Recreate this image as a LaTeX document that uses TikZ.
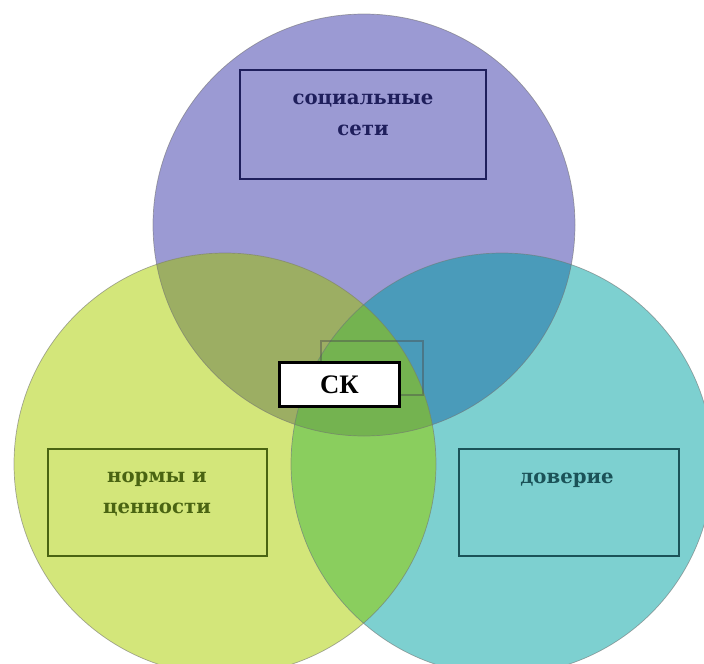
\documentclass[tikz,border=0pt]{standalone}
\usepackage{fontspec}
\setmainfont{DejaVu Serif}
\newfontfamily\timesfont{Liberation Serif}
\usepackage{xcolor}
\usetikzlibrary{positioning}

\definecolor{setiC}{HTML}{9B9AD3}
\definecolor{normC}{HTML}{D3E67A}
\definecolor{dovC}{HTML}{7DD0D0}
\definecolor{setinormC}{HTML}{9CAE63}
\definecolor{setidovC}{HTML}{4A9BBA}
\definecolor{normdovC}{HTML}{8ACE5E}
\definecolor{allC}{HTML}{74B350}
\definecolor{setiT}{HTML}{1F1F5C}
\definecolor{normT}{HTML}{4A6412}
\definecolor{dovT}{HTML}{1B5258}

\tikzset{
    ring/.style={draw=black!55, draw opacity=0.6, line width=0.5pt},
    textbox/.style={draw=#1, line width=1pt, rectangle, inner sep=0pt},
    lbl/.style={text=#1, font=\bfseries\fontsize{14}{21.5}\selectfont, align=center, inner sep=0pt},
}

\begin{document}
\begin{tikzpicture}[x=0.025cm, y=-0.025cm]
    \useasboundingbox (0,0) rectangle (704,664);
    \clip (0,0) rectangle (704,664);
    % centres of the circles
    \coordinate (cSeti) at (364,225);
    \coordinate (cNorm) at (225,464);
    \coordinate (cDov) at (502,464);
    % the three circles
    \fill[setiC] (cSeti) circle (211);
    \fill[normC] (cNorm) circle (211);
    \fill[dovC] (cDov) circle (211);
    % overlaps
    \begin{scope}
        \clip (cSeti) circle (211);
        \fill[setinormC] (cNorm) circle (211);
        \fill[setidovC] (cDov) circle (211);
    \end{scope}
    \begin{scope}
        \clip (cNorm) circle (211);
        \fill[normdovC] (cDov) circle (211);
        \clip (cDov) circle (211);
        \fill[allC] (cSeti) circle (211);
    \end{scope}
    \draw[ring] (cSeti) circle (211);
    \draw[ring] (cNorm) circle (211);
    \draw[ring] (cDov) circle (211);
    % boxes
    \node[textbox=setiT, minimum width=246*0.025cm, minimum height=109*0.025cm] (setibox) at (363,124.5) {};
    \node[textbox=normT, minimum width=219*0.025cm, minimum height=107*0.025cm] (normbox) at (157.5,502.5) {};
    \node[textbox=dovT, minimum width=220*0.025cm, minimum height=107*0.025cm] (dovbox) at (569,502.5) {};
    \node[textbox=black!70, draw opacity=0.45, minimum width=102*0.025cm, minimum height=54*0.025cm] (midbox) at (372,368) {};
    % labels
    \node[lbl=setiT] (seti) at (363,115) {социальные\\сети};
    \node[lbl=normT] (norm) at (157,494) {нормы и\\ценности};
    \node[lbl=dovT] (dov) at (567,480) {доверие};
    \node[draw=black, line width=1.6pt, fill=white, minimum width=120*0.025cm, minimum height=44*0.025cm,
          font=\timesfont\bfseries\fontsize{19}{19}\selectfont] (sk) at (339.5,384.5) {СК};
\end{tikzpicture}
\end{document}
